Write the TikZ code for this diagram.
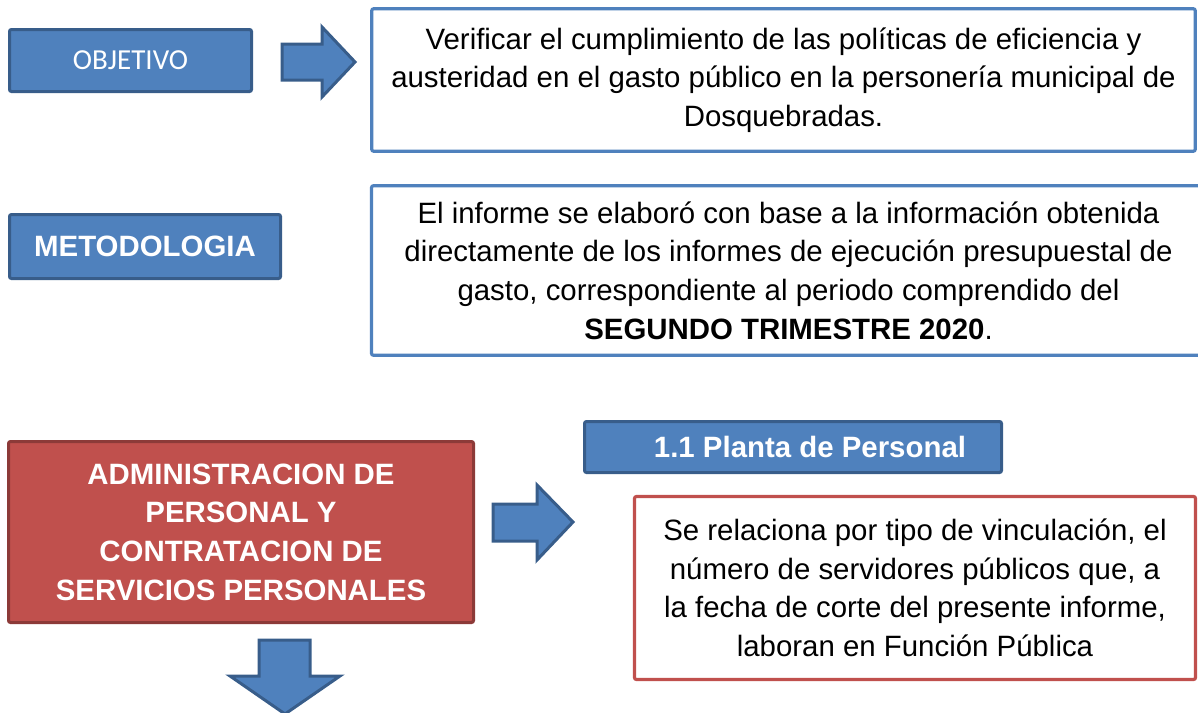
\documentclass[tikz,border=0pt]{standalone}
\usepackage{fontspec}
\usepackage{xcolor}
\setmainfont{Liberation Sans}
\newfontfamily\carlito{Carlito}

\definecolor{azul}{HTML}{4F81BD}
\definecolor{azuloscuro}{HTML}{385D8A}
\definecolor{rojo}{HTML}{C0504D}
\definecolor{rojooscuro}{HTML}{8C3A38}

\newcommand\letracaja{\fontsize{14.7}{19.3}\selectfont}

\begin{document}
\begin{tikzpicture}[x=0.5pt, y=-0.5pt,
  every node/.style = {rectangle, rounded corners=1pt, align=center,
    inner sep=0pt, font=\letracaja},
  cajaazul/.style = {fill=azul, draw=azuloscuro, line width=1.5pt, text=white},
  cajaroja/.style = {fill=rojo, draw=rojooscuro, line width=1.5pt, text=white},
  marco/.style = {fill=white, draw=#1, line width=1.6pt, text=black},
  flecha/.style = {fill=azul, draw=azuloscuro, line width=1.5pt, line join=miter}]
  \useasboundingbox (0,0) rectangle (1198,712);
  \clip (0,0) rectangle (1198,712);

  % fila 1
  \node[cajaazul, minimum width=121pt, minimum height=31pt,
    font=\carlito\fontsize{14.5}{17}\selectfont] (objetivo) at (130.5,60.5) {OBJETIVO};
  \node[marco=azul, minimum width=411.75pt, minimum height=71.25pt] (verificar) at (783.5,80)
    {Verificar el cumplimiento de las políticas de eficiencia y\\
     austeridad en el gasto público en la personería municipal de\\
     Dosquebradas.};
  \draw[flecha] (282,44) -- (322,44) -- (322,27) -- (355,62) -- (322,97) -- (322,80) -- (282,80) -- cycle;

  % fila 2
  \node[cajaazul, minimum width=135.5pt, minimum height=32pt,
    font=\letracaja\bfseries] (metodologia) at (145,246.5) {METODOLOGIA};
  \node[marco=azul, minimum width=417pt, minimum height=84.75pt] (informe) at (788.5,270.5)
    {El informe se elaboró con base a la información obtenida\\
     directamente de los informes de ejecución presupuestal de\\
     gasto, correspondiente al periodo comprendido del\\
     \textbf{SEGUNDO TRIMESTRE 2020}.};

  % fila 3
  \node[cajaroja, minimum width=232.5pt, minimum height=90.5pt,
    font=\letracaja\bfseries] (admin) at (241,532)
    {ADMINISTRACION DE\\ PERSONAL Y\\ CONTRATACION DE\\ SERVICIOS PERSONALES};
  \node[cajaazul, minimum width=208.5pt, minimum height=25.5pt,
    font=\letracaja\bfseries] (planta) at (793,447) {\hspace*{17pt}1.1 Planta de Personal};
  \node[marco=rojo, minimum width=280.5pt, minimum height=91.5pt] (vinculacion) at (915,588)
    {Se relaciona por tipo de vinculación, el\\
     número de servidores públicos que, a\\
     la fecha de corte del presente informe,\\
     laboran en Función Pública};
  \draw[flecha] (493,504) -- (537,504) -- (537,485) -- (573,522) -- (537,560) -- (537,541) -- (493,541) -- cycle;
  \draw[flecha] (259,640) -- (310,640) -- (310,676) -- (340,676) -- (285,714) -- (230,676) -- (259,676) -- cycle;
\end{tikzpicture}
\end{document}
